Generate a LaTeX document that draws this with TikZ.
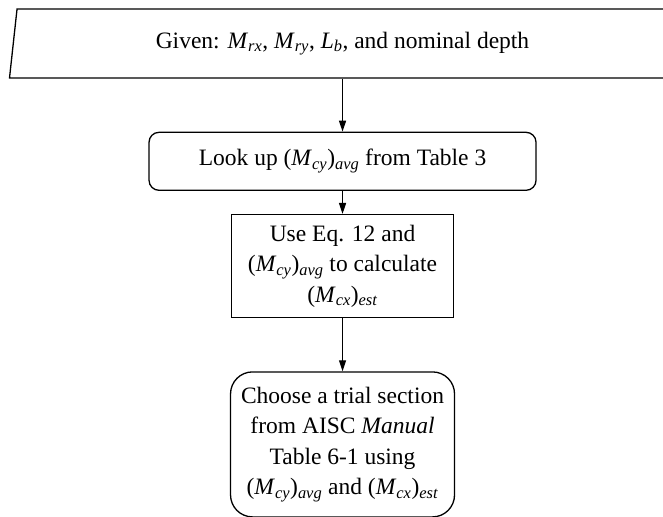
\documentclass[tikz,border=0pt]{standalone}
\usepackage{fontspec}
\setmainfont{Liberation Serif}
\usepackage{tikz}
\usetikzlibrary{shapes.geometric, arrows.meta, positioning}
\newcommand{\sym}[2]{\textit{#1}\textsubscript{\textit{#2}}}

\begin{document}
\begin{tikzpicture}[
    x=1pt, y=1pt,
    font=\fontsize{23.5}{30.5}\selectfont,
    given/.style={trapezium, trapezium left angle=76, trapezium right angle=104, trapezium stretches body, draw, line width=1.3pt, minimum width=666pt, minimum height=69pt, inner xsep=0pt, align=center},
    lookup/.style={rectangle, rounded corners=10pt, draw, line width=1.3pt, minimum width=387pt, minimum height=58pt, align=center},
    calcbox/.style={rectangle, draw, line width=1.3pt, minimum width=222pt, minimum height=103pt, align=center},
    choose/.style={rectangle, rounded corners=22pt, draw, line width=1.3pt, minimum width=224pt, minimum height=145pt, align=center},
    arrowstyle/.style={-{Triangle[length=11pt,width=7pt]}, line width=1.3pt}
]
\useasboundingbox (0,0) rectangle (663,-516);

\node[given] (given) at (342.5,-43.5) {Given: \sym{M}{rx}, \sym{M}{ry}, \sym{L}{b}, and nominal depth};
\node[lookup, below=53pt of given.south] (lookup) {Look up (\sym{M}{cy})\textsubscript{\textit{avg}} from Table 3};
\node[calcbox, below=23pt of lookup.south] (eq) {Use Eq. 12 and\\(\sym{M}{cy})\textsubscript{\textit{avg}} to calculate\\(\sym{M}{cx})\textsubscript{\textit{est}}};
\node[choose, below=53pt of eq.south] (trial) {Choose a trial section\\from AISC \textit{Manual}\\Table 6-1 using\\(\sym{M}{cy})\textsubscript{\textit{avg}} and (\sym{M}{cx})\textsubscript{\textit{est}}};

\draw[arrowstyle] (given.south -| lookup.north) -- (lookup.north);
\draw[arrowstyle] (lookup.south -| eq.north) -- (eq.north);
\draw[arrowstyle] (eq) -- (trial);
\end{tikzpicture}
\end{document}
